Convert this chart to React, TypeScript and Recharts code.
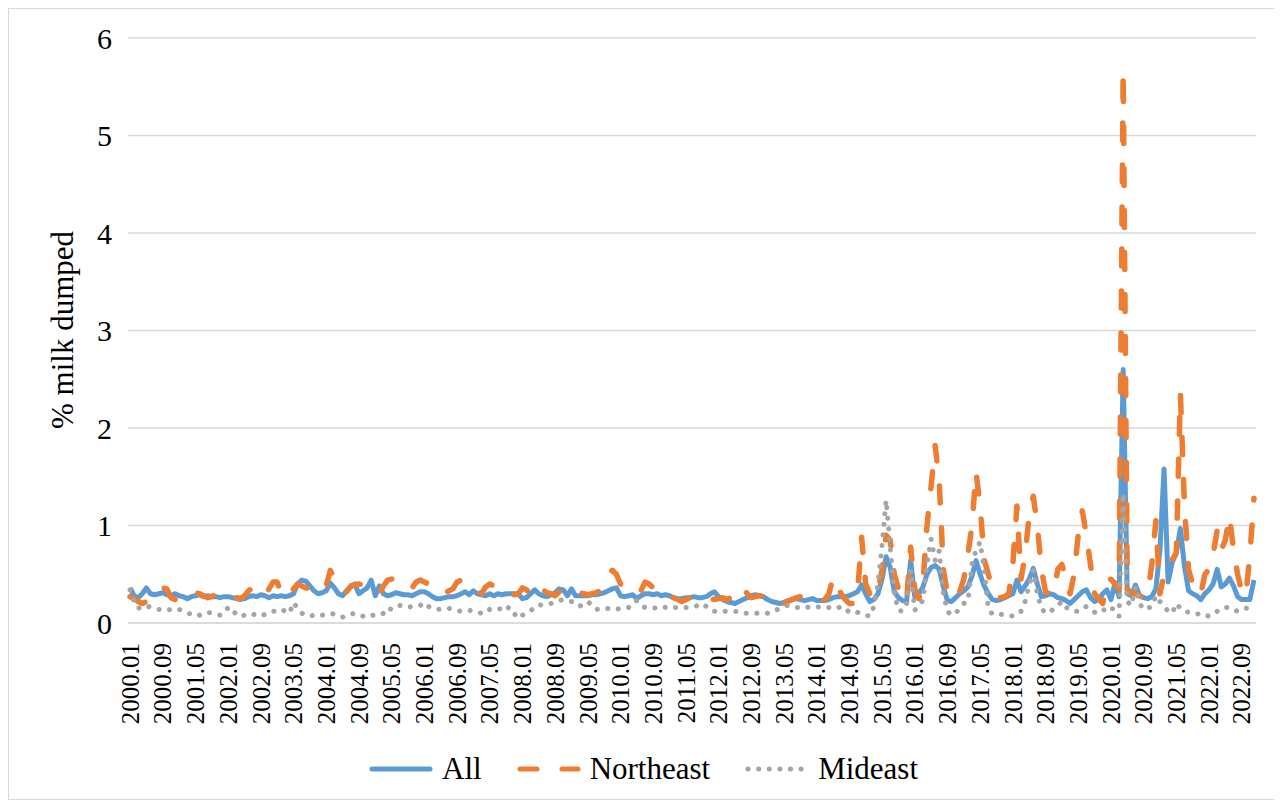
import { LineChart, Line, XAxis, YAxis, CartesianGrid } from "recharts";

// monthly series, 2000.01 – 2022.12 (12 values per row = one year)
const years = [
  2000, 2001, 2002, 2003, 2004, 2005, 2006, 2007, 2008, 2009, 2010, 2011,
  2012, 2013, 2014, 2015, 2016, 2017, 2018, 2019, 2020, 2021, 2022,
];
const months = ["01", "02", "03", "04", "05", "06", "07", "08", "09", "10", "11", "12"];

const allValues = [
  0.36, 0.28, 0.26, 0.30, 0.36, 0.30, 0.29, 0.30, 0.31, 0.29, 0.28, 0.30,
  0.28, 0.27, 0.25, 0.27, 0.28, 0.29, 0.27, 0.28, 0.27, 0.27, 0.26, 0.27,
  0.27, 0.26, 0.25, 0.24, 0.25, 0.27, 0.28, 0.27, 0.29, 0.28, 0.26, 0.28,
  0.27, 0.28, 0.27, 0.28, 0.30, 0.40, 0.44, 0.43, 0.38, 0.33, 0.30, 0.31,
  0.33, 0.41, 0.36, 0.30, 0.28, 0.33, 0.37, 0.40, 0.30, 0.33, 0.36, 0.44,
  0.28, 0.38, 0.30, 0.28, 0.29, 0.31, 0.30, 0.29, 0.29, 0.28, 0.30, 0.32,
  0.32, 0.30, 0.27, 0.25, 0.25, 0.26, 0.27, 0.27, 0.28, 0.30, 0.32, 0.29,
  0.33, 0.30, 0.29, 0.28, 0.30, 0.28, 0.30, 0.29, 0.30, 0.30, 0.30, 0.30,
  0.25, 0.26, 0.30, 0.34, 0.30, 0.28, 0.27, 0.29, 0.31, 0.35, 0.34, 0.28,
  0.35, 0.28, 0.28, 0.28, 0.28, 0.29, 0.29, 0.30, 0.31, 0.33, 0.35, 0.36,
  0.28, 0.27, 0.28, 0.29, 0.25, 0.28, 0.30, 0.30, 0.29, 0.30, 0.28, 0.29,
  0.28, 0.26, 0.25, 0.25, 0.26, 0.26, 0.27, 0.26, 0.26, 0.27, 0.30, 0.32,
  0.27, 0.24, 0.22, 0.21, 0.20, 0.22, 0.24, 0.26, 0.28, 0.29, 0.28, 0.27,
  0.24, 0.22, 0.21, 0.20, 0.21, 0.23, 0.24, 0.25, 0.24, 0.23, 0.24, 0.25,
  0.23, 0.23, 0.23, 0.24, 0.26, 0.27, 0.27, 0.27, 0.28, 0.30, 0.32, 0.39,
  0.30, 0.22, 0.24, 0.30, 0.45, 0.68, 0.57, 0.32, 0.26, 0.23, 0.22, 0.64,
  0.27, 0.30, 0.37, 0.50, 0.57, 0.59, 0.55, 0.37, 0.23, 0.22, 0.26, 0.30,
  0.33, 0.37, 0.48, 0.64, 0.50, 0.38, 0.30, 0.24, 0.23, 0.24, 0.26, 0.28,
  0.30, 0.44, 0.32, 0.38, 0.45, 0.56, 0.40, 0.27, 0.28, 0.30, 0.29, 0.26,
  0.25, 0.23, 0.20, 0.24, 0.28, 0.32, 0.34, 0.26, 0.22, 0.24, 0.30, 0.34,
  0.24, 0.41, 0.27, 2.60, 0.30, 0.28, 0.39, 0.28, 0.26, 0.25, 0.27, 0.35,
  0.75, 1.58, 0.42, 0.62, 0.72, 0.97, 0.58, 0.33, 0.30, 0.28, 0.24, 0.30,
  0.34, 0.40, 0.55, 0.37, 0.40, 0.46, 0.38, 0.27, 0.24, 0.24, 0.24, 0.44,
];

const northeastValues = [
  0.27, 0.25, 0.22, 0.20, 0.22, 0.28, 0.30, 0.32, 0.36, 0.35, 0.26, 0.24,
  0.28, 0.30, 0.31, 0.32, 0.31, 0.30, 0.28, 0.26, 0.27, 0.30, 0.31, 0.30,
  0.30, 0.28, 0.26, 0.25, 0.28, 0.33, 0.36, 0.33, 0.30, 0.28, 0.35, 0.42,
  0.42, 0.30, 0.27, 0.28, 0.35, 0.40, 0.38, 0.36, 0.35, 0.34, 0.33, 0.32,
  0.38, 0.54, 0.45, 0.40, 0.33, 0.32, 0.38, 0.39, 0.40, 0.39, 0.38, 0.36,
  0.32, 0.30, 0.38, 0.44, 0.45, 0.46, 0.44, 0.40, 0.38, 0.36, 0.42, 0.44,
  0.42, 0.40, 0.38, 0.36, 0.32, 0.30, 0.33, 0.35, 0.42, 0.44, 0.43, 0.38,
  0.34, 0.32, 0.30, 0.37, 0.40, 0.38, 0.36, 0.34, 0.30, 0.30, 0.29, 0.30,
  0.36, 0.34, 0.31, 0.30, 0.38, 0.34, 0.31, 0.30, 0.28, 0.32, 0.33, 0.34,
  0.30, 0.31, 0.31, 0.30, 0.29, 0.30, 0.31, 0.33, 0.40, 0.48, 0.54, 0.50,
  0.40, 0.38, 0.36, 0.32, 0.30, 0.33, 0.42, 0.40, 0.36, 0.33, 0.30, 0.29,
  0.28, 0.26, 0.24, 0.22, 0.24, 0.26, 0.25, 0.24, 0.23, 0.24, 0.25, 0.24,
  0.25, 0.26, 0.24, 0.26, 0.28, 0.32, 0.37, 0.30, 0.26, 0.27, 0.28, 0.27,
  0.27, 0.26, 0.24, 0.22, 0.20, 0.22, 0.24, 0.26, 0.27, 0.26, 0.25, 0.24,
  0.24, 0.22, 0.24, 0.30, 0.47, 0.38, 0.30, 0.24, 0.20, 0.20, 0.30, 0.88,
  0.40, 0.30, 0.25, 0.32, 0.55, 0.90, 0.85, 0.50, 0.35, 0.28, 0.22, 0.78,
  0.35, 0.25, 0.40, 1.00, 1.40, 1.82, 1.45, 0.55, 0.30, 0.25, 0.28, 0.32,
  0.45, 0.70, 1.00, 1.55, 1.20, 0.65, 0.50, 0.35, 0.27, 0.26, 0.27, 0.30,
  0.60, 1.20, 0.45, 0.70, 1.10, 1.30, 1.00, 0.55, 0.32, 0.30, 0.30, 0.55,
  0.60, 0.45, 0.30, 0.50, 0.90, 1.15, 0.90, 0.60, 0.30, 0.25, 0.20, 0.45,
  0.45, 0.40, 0.35, 5.67, 0.35, 0.30, 0.30, 0.28, 0.26, 0.30, 0.60, 1.05,
  0.30, 0.50, 0.55, 0.65, 0.72, 2.35, 1.20, 0.55, 0.40, 0.30, 0.30, 0.50,
  0.55, 0.70, 0.95, 0.75, 0.85, 1.10, 0.75, 0.50, 0.32, 0.28, 0.70, 1.28,
];

const mideastValues = [
  0.34, 0.22, 0.15, 0.17, 0.18, 0.16, 0.15, 0.14, 0.13, 0.13, 0.14, 0.15,
  0.14, 0.12, 0.10, 0.09, 0.07, 0.08, 0.10, 0.11, 0.10, 0.09, 0.08, 0.10,
  0.16, 0.15, 0.08, 0.07, 0.08, 0.10, 0.09, 0.08, 0.07, 0.09, 0.11, 0.12,
  0.12, 0.14, 0.12, 0.10, 0.21, 0.15, 0.10, 0.08, 0.07, 0.08, 0.09, 0.08,
  0.09, 0.10, 0.09, 0.07, 0.06, 0.08, 0.09, 0.10, 0.08, 0.07, 0.09, 0.08,
  0.08, 0.08, 0.10, 0.09, 0.16, 0.17, 0.18, 0.17, 0.16, 0.17, 0.18, 0.18,
  0.21, 0.17, 0.15, 0.14, 0.14, 0.14, 0.15, 0.14, 0.13, 0.12, 0.12, 0.13,
  0.12, 0.11, 0.10, 0.10, 0.14, 0.15, 0.14, 0.15, 0.18, 0.14, 0.08, 0.12,
  0.08, 0.10, 0.12, 0.17, 0.18, 0.19, 0.19, 0.20, 0.21, 0.23, 0.24, 0.23,
  0.22, 0.20, 0.17, 0.20, 0.22, 0.18, 0.14, 0.14, 0.15, 0.15, 0.14, 0.14,
  0.15, 0.16, 0.16, 0.21, 0.23, 0.18, 0.16, 0.16, 0.15, 0.16, 0.17, 0.16,
  0.17, 0.16, 0.16, 0.16, 0.16, 0.16, 0.17, 0.18, 0.20, 0.17, 0.13, 0.12,
  0.12, 0.12, 0.12, 0.12, 0.12, 0.11, 0.10, 0.10, 0.10, 0.10, 0.10, 0.10,
  0.10, 0.12, 0.13, 0.15, 0.17, 0.18, 0.17, 0.16, 0.16, 0.17, 0.16, 0.16,
  0.16, 0.17, 0.16, 0.16, 0.16, 0.15, 0.17, 0.15, 0.11, 0.12, 0.11, 0.09,
  0.08, 0.07, 0.17, 0.40, 0.80, 1.26, 0.78, 0.30, 0.13, 0.12, 0.20, 0.54,
  0.13, 0.18, 0.23, 0.60, 0.86, 0.64, 0.74, 0.30, 0.12, 0.08, 0.10, 0.15,
  0.20, 0.22, 0.60, 0.75, 0.83, 0.55, 0.15, 0.09, 0.09, 0.09, 0.08, 0.08,
  0.07, 0.10, 0.12, 0.22, 0.39, 0.54, 0.30, 0.15, 0.10, 0.12, 0.14, 0.18,
  0.22, 0.16, 0.14, 0.12, 0.12, 0.15, 0.17, 0.14, 0.11, 0.10, 0.12, 0.17,
  0.15, 0.14, 0.07, 1.33, 0.22, 0.18, 0.37, 0.20, 0.14, 0.15, 0.17, 0.28,
  0.22, 0.17, 0.12, 0.10, 0.20, 0.15, 0.12, 0.11, 0.10, 0.09, 0.10, 0.08,
  0.07, 0.09, 0.12, 0.15, 0.16, 0.16, 0.14, 0.12, 0.13, 0.15, 0.16, 0.17,
];

const yTicks = [0, 1, 2, 3, 4, 5, 6];

const labels = years.flatMap((y) => months.map((m) => `${y}.${m}`));
const data = labels.map((label, i) => ({
  label,
  all: allValues[i],
  northeast: northeastValues[i],
  mideast: mideastValues[i],
}));

const FONT = '"Liberation Serif", "Times New Roman", serif';
const BLUE = "#5B9BD5";
const ORANGE = "#ED7D31";
const GREY = "#A5A5A5";

function XTick({ x, y, payload }: any) {
  return (
    <text
      x={x}
      y={y}
      transform={`rotate(-90 ${x} ${y})`}
      textAnchor="end"
      dy="0.35em"
      fontSize={25}
      fontFamily={FONT}
      fill="#000"
    >
      {payload.value}
    </text>
  );
}

function YTitle() {
  return (
    <text
      x={53}
      y={321}
      transform="rotate(-90 53 321)"
      textAnchor="middle"
      dy="0.35em"
      fontSize={31}
      fontFamily={FONT}
      fill="#000"
    >
      % milk dumped
    </text>
  );
}

function LegendItem({ color, dash, label }: { color: string; dash?: string; label: string }) {
  return (
    <div style={{ display: "flex", alignItems: "center", marginRight: 34 }}>
      <svg width={66} height={12} style={{ marginRight: 8 }}>
        <line
          x1={4}
          y1={6}
          x2={62}
          y2={6}
          stroke={color}
          strokeWidth={5}
          strokeLinecap="round"
          strokeDasharray={dash}
        />
      </svg>
      <span>{label}</span>
    </div>
  );
}

export default function App() {
  return (
    <div
      style={{
        position: "relative",
        width: 1266,
        height: 790,
        border: "1px solid #d9d9d9",
        background: "#fff",
      }}
    >
      <LineChart
        width={1266}
        height={790}
        data={data}
        margin={{ top: 29, right: 19, left: 0, bottom: 66 }}
      >
        <CartesianGrid vertical={false} stroke="#d9d9d9" strokeWidth={1.5} />
        <XAxis
          dataKey="label"
          scale="band"
          interval={7}
          height={110}
          tickLine={false}
          tickSize={8}
          tickMargin={12}
          axisLine={{ stroke: "#d9d9d9", strokeWidth: 1.5 }}
          tick={<XTick />}
        />
        <YAxis
          domain={[0, 6]}
          ticks={yTicks}
          width={119}
          axisLine={false}
          tickLine={false}
          tickSize={6}
          tickMargin={10}
          tick={{ fontSize: 30, fontFamily: FONT, fill: "#000" }}
          label={<YTitle />}
        />
        <Line
          dataKey="all"
          stroke={BLUE}
          strokeWidth={5}
          dot={false}
          strokeLinejoin="round"
          isAnimationActive={false}
        />
        <Line
          dataKey="northeast"
          stroke={ORANGE}
          strokeWidth={5.5}
          strokeDasharray="17 25"
          strokeLinecap="round"
          strokeLinejoin="round"
          dot={false}
          isAnimationActive={false}
        />
        <Line
          dataKey="mideast"
          stroke={GREY}
          strokeWidth={5}
          strokeDasharray="0.1 10.5"
          strokeLinecap="round"
          dot={false}
          isAnimationActive={false}
        />
      </LineChart>
      <div
        style={{
          position: "absolute",
          left: 359,
          top: 740,
          display: "flex",
          alignItems: "center",
          fontFamily: FONT,
          fontSize: 31,
          color: "#000",
          lineHeight: "40px",
        }}
      >
        <LegendItem color={BLUE} label="All" />
        <LegendItem color={ORANGE} dash="17 25" label="Northeast" />
        <LegendItem color={GREY} dash="0.1 10.5" label="Mideast" />
      </div>
    </div>
  );
}
